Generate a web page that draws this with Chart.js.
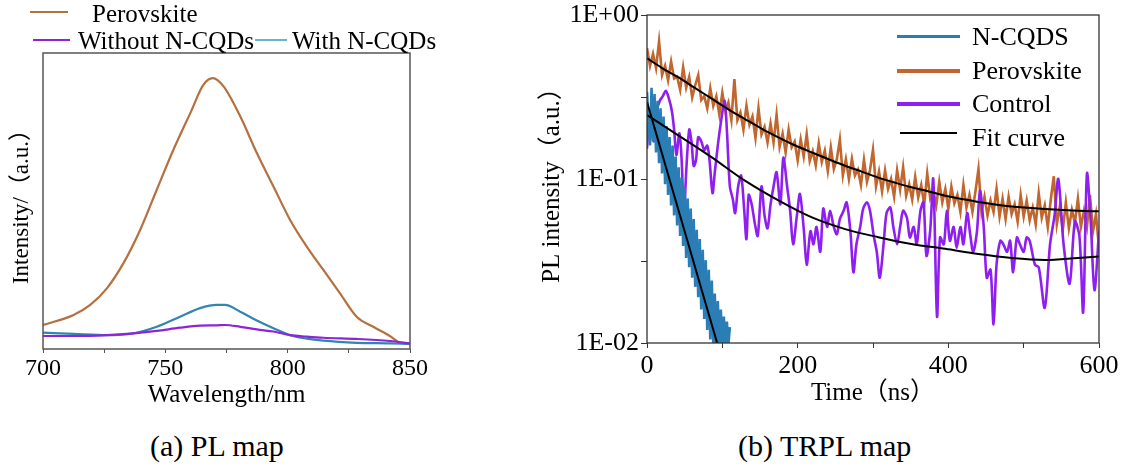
<!DOCTYPE html>
<html>
<head>
<meta charset="utf-8">
<script src="https://cdn.jsdelivr.net/npm/chart.js@4.4.1/dist/chart.umd.min.js"></script>
<style>
    body { margin: 0; background: #fff; }
    #page { position: relative; width: 1133px; height: 470px; overflow: hidden; font-family: 'Liberation Serif', 'Times New Roman', 'Noto Sans CJK SC', serif; }
    .box { position: absolute; top: 0; height: 420px; }
    .txt { position: absolute; white-space: nowrap; color: #000; }
    .swatch { position: absolute; }
</style>
</head>
<body>
<div id="page">
    <div class="box" style="left:0; width:440px;"><canvas id="plChart"></canvas></div>
    <div class="box" style="left:530px; width:603px;"><canvas id="trplChart"></canvas></div>

    <!-- legend (a) -->
    <div class="swatch" style="left:30px; top:11px; width:38px; height:2px; background:#b5703f;"></div>
    <div class="txt" style="left:92px; top:-1px; font-size:25px; line-height:30px;">Perovskite</div>
    <div class="swatch" style="left:33px; top:39px; width:37px; height:2px; background:#8e24d8;"></div>
    <div class="txt" style="left:78px; top:26px; font-size:25px; line-height:30px;">Without N-CQDs</div>
    <div class="swatch" style="left:255px; top:39px; width:32px; height:2px; background:#68b4cc;"></div>
    <div class="txt" style="left:292px; top:26px; font-size:25px; line-height:30px;">With N-CQDs</div>

    <!-- legend (b) -->
    <div class="swatch" style="left:897px; top:35px; width:63px; height:3px; background:#2a7db5;"></div>
    <div class="txt" style="left:972px; top:21px; font-size:26px; line-height:31px;">N-CQDS</div>
    <div class="swatch" style="left:897px; top:69px; width:63px; height:4px; background:#c0662e;"></div>
    <div class="txt" style="left:972px; top:55px; font-size:26px; line-height:31px;">Perovskite</div>
    <div class="swatch" style="left:897px; top:102px; width:63px; height:4px; background:#8f1ff0;"></div>
    <div class="txt" style="left:972px; top:88px; font-size:26px; line-height:31px;">Control</div>
    <div class="swatch" style="left:900px; top:132px; width:57px; height:2px; background:#000;"></div>
    <div class="txt" style="left:972px; top:122px; font-size:26px; line-height:31px;">Fit curve</div>

    <div class="txt" style="left:150px; top:428px; font-size:30px; line-height:36px;">(a) PL map</div>
    <div class="txt" style="left:738px; top:428px; font-size:30px; line-height:36px;">(b) TRPL map</div>
</div>
<script>
// ---------- (a) PL map ----------
const plWavelengthPerov = [700, 712.5, 719.3, 726.1, 732.9, 739.7, 746.5, 753.3, 760.2, 765.6, 769.4, 773.8,
    780.6, 787.4, 794.2, 801, 807.8, 814.6, 821.4, 828.2, 835, 841.8, 845.9, 850];
const plPerovskite = [8.1, 11.5, 14.9, 20.5, 29, 40.2, 53.8, 67.3, 79.7, 89.3, 91.5, 88.7,
    78.6, 66.2, 54.9, 43.6, 34.6, 26.7, 18.8, 10.9, 7.5, 4.4, 2.1, 1.7];
const plWavelength = [700, 712.5, 726.1, 737, 746.5, 756, 764.2, 771, 774.4, 780.6, 787.4, 794.2, 801, 807.8, 814.6, 828.2, 841.8, 850];
const plWithNCQDs = [5.5, 5.1, 4.7, 5.3, 7.5, 10.9, 13.8, 14.9, 14.9, 12.6, 9.6, 7.0, 4.7, 3.5, 2.8, 2.1, 1.9, 1.7];
const plWithoutNCQDs = [4.4, 4.4, 4.7, 5.3, 6.1, 7.2, 7.9, 8.0, 8.1, 7.5, 6.6, 5.9, 4.7, 4.2, 3.8, 3.4, 2.7, 1.9];
const plTicks = [700, 725, 750, 775, 800, 825, 850];

// ---------- (b) TRPL map ----------
const perovStep = 4; // ns between samples, starting at 0
const trplPerovskite = [
    0.63, 0.49, 0.58, 0.475, 0.69, 0.43, 0.49, 0.40, 0.52, 0.41,
    0.42, 0.35, 0.48, 0.36, 0.42, 0.314, 0.373, 0.43, 0.303, 0.32,
    0.27, 0.358, 0.279, 0.319, 0.247, 0.336, 0.26, 0.293, 0.229, 0.406,
    0.228, 0.254, 0.20, 0.28, 0.214, 0.241, 0.178, 0.27, 0.187, 0.208,
    0.167, 0.218, 0.167, 0.246, 0.157, 0.189, 0.145, 0.20, 0.156, 0.169,
    0.13, 0.174, 0.137, 0.188, 0.129, 0.148, 0.121, 0.165, 0.127, 0.149,
    0.112, 0.156, 0.115, 0.132, 0.174, 0.105, 0.132, 0.10, 0.133, 0.105,
    0.114, 0.092, 0.131, 0.096, 0.113, 0.151, 0.09, 0.111, 0.084, 0.113,
    0.087, 0.10, 0.078, 0.113, 0.086, 0.118, 0.079, 0.093, 0.075, 0.103,
    0.077, 0.092, 0.07, 0.108, 0.076, 0.084, 0.069, 0.096, 0.072, 0.087,
    0.066, 0.09, 0.071, 0.08, 0.063, 0.092, 0.067, 0.08, 0.063, 0.084,
    0.115, 0.063, 0.078, 0.06, 0.074, 0.063, 0.087, 0.059, 0.076, 0.057,
    0.078, 0.061, 0.07, 0.055, 0.08, 0.059, 0.074, 0.056, 0.067, 0.053,
    0.082, 0.058, 0.069, 0.051, 0.075, 0.104, 0.053, 0.068, 0.049, 0.072,
    0.05, 0.065, 0.054, 0.076, 0.051, 0.064, 0.051, 0.08, 0.048, 0.061,
    0.038
];

const controlTime = [0, 3, 6, 9, 13, 17, 21, 25, 29, 33, 36, 39, 43, 46, 49, 52, 56, 59, 62, 65, 68, 72, 76, 80, 83, 87, 90, 94, 98,
    103, 106, 110, 114, 117, 121, 125, 129, 132, 135, 139, 143, 147, 152, 156, 160, 164, 168, 172, 177, 181, 186, 190, 194, 199,
    203, 208, 212, 217, 221, 225, 230, 234, 239, 243, 248, 252, 256, 261, 265, 270, 274, 278, 283, 287, 292, 296, 301, 305, 309,
    314, 318, 323, 327, 332, 336, 340, 345, 349, 354, 358, 363, 367, 371, 376, 380, 385, 389, 394, 398, 402, 407, 411, 416, 420,
    425, 429, 433, 438, 442, 447, 451, 456, 460, 464, 469, 473, 478, 482, 486, 491, 495, 500, 504, 508, 515, 520, 528, 535, 541,
    546, 553, 561, 568, 574, 579, 584, 589, 594, 600];
const controlValue = [0.153, 0.24, 0.2, 0.17, 0.26, 0.30, 0.32, 0.345, 0.31, 0.26, 0.2, 0.14, 0.19, 0.13, 0.06, 0.11, 0.2, 0.17, 0.12, 0.13, 0.18, 0.17, 0.15, 0.16, 0.13, 0.082, 0.11, 0.16, 0.22,
    0.3, 0.2, 0.09, 0.075, 0.062, 0.09, 0.105, 0.065, 0.043, 0.08, 0.07, 0.054, 0.045, 0.09, 0.06, 0.05, 0.07, 0.09, 0.11, 0.07, 0.135, 0.09, 0.064, 0.040, 0.06,
    0.081, 0.05, 0.03, 0.048, 0.040, 0.051, 0.036, 0.066, 0.051, 0.064, 0.051, 0.046, 0.057, 0.064, 0.072, 0.048, 0.027, 0.040, 0.051, 0.066, 0.072, 0.064, 0.045, 0.036, 0.025,
    0.040, 0.062, 0.067, 0.051, 0.040, 0.051, 0.064, 0.058, 0.044, 0.051, 0.040, 0.064, 0.072, 0.034, 0.049, 0.10, 0.0145, 0.044, 0.040, 0.064, 0.042, 0.051, 0.038, 0.051, 0.040,
    0.062, 0.046, 0.036, 0.048, 0.085, 0.051, 0.025, 0.028, 0.013, 0.030, 0.042, 0.040, 0.036, 0.042, 0.027, 0.044, 0.040, 0.036, 0.044, 0.042, 0.030, 0.029, 0.0164, 0.040, 0.06,
    0.10, 0.040, 0.023, 0.055, 0.045, 0.0154, 0.108, 0.055, 0.021, 0.048];

const ncqdsStep = 2;
const trplNCQDs = [
    0.34, 0.22, 0.16, 0.36, 0.17, 0.33, 0.145, 0.30, 0.125, 0.27,
    0.108, 0.24, 0.093, 0.21, 0.08, 0.18, 0.069, 0.16, 0.06, 0.137,
    0.052, 0.118, 0.045, 0.102, 0.039, 0.089, 0.033, 0.076, 0.029, 0.066,
    0.025, 0.057, 0.022, 0.049, 0.019, 0.043, 0.016, 0.037, 0.014, 0.032,
    0.012, 0.028, 0.0105, 0.024, 0.0095, 0.02, 0.0092, 0.018, 0.0092, 0.016,
    0.0093, 0.0145, 0.0095, 0.0135, 0.0097, 0.0125
];

const perovFitTime = [0, 20, 42, 64, 86, 108, 130, 152, 175, 197, 219, 241, 263, 285, 307, 329, 351, 374, 396, 418, 440, 462, 484, 506, 528, 550, 572, 600];
const perovFitValue = [0.545, 0.475, 0.416, 0.358, 0.309, 0.266, 0.232, 0.203, 0.179, 0.16, 0.145, 0.132, 0.1205, 0.111, 0.102, 0.095, 0.089, 0.084, 0.079, 0.0755,
    0.0724, 0.070, 0.068, 0.0667, 0.0656, 0.0648, 0.0641, 0.0635];
const controlFitTime = [0, 42, 86, 130, 175, 219, 263, 307, 351, 396, 440, 484, 528, 572, 600];
const controlFitValue = [0.245, 0.184, 0.1355, 0.0977, 0.0738, 0.0583, 0.0495, 0.0442, 0.0402, 0.0375, 0.0349, 0.033, 0.0321, 0.033, 0.0337];
const ncqdsFitTime = [0, 30, 60, 90, 100];
const ncqdsFitValue = [0.295, 0.099, 0.0333, 0.0112, 0.0078];

const trplXTicks = [0, 100, 200, 300, 400, 500, 600];
const trplYTicks = [0.01, 0.0316, 0.1, 0.316, 1];
const trplYLabels = ['1E-02', '', '1E-01', '', '1E+00'];

const SERIF = "'Liberation Serif', 'Times New Roman', 'Noto Sans CJK SC', serif";
Chart.defaults.font.family = SERIF;
Chart.defaults.color = '#000';

function pairs(xs, ys) {
    return ys.map((y, i) => ({ x: xs[i], y: y }));
}

function stepped(step, ys) {
    return ys.map((y, i) => ({ x: i * step, y: y }));
}

// draws the closed frame around the plot area
const framePlugin = {
    id: 'frame',
    afterDraw(chart, args, opts) {
        const { ctx, chartArea } = chart;
        ctx.save();
        ctx.strokeStyle = opts.color || '#444';
        ctx.lineWidth = opts.width || 1.5;
        ctx.strokeRect(chartArea.left, chartArea.top, chartArea.right - chartArea.left, chartArea.bottom - chartArea.top);
        ctx.restore();
    }
};

function lineSet(label, data, color, width, order, tension, monotone) {
    return {
        label: label,
        data: data,
        borderColor: color,
        borderWidth: width,
        pointRadius: 0,
        fill: false,
        order: order,
        tension: tension,
        cubicInterpolationMode: monotone ? 'monotone' : 'default'
    };
}

new Chart(document.getElementById('plChart'), {
    type: 'line',
    data: {
        datasets: [
            lineSet('Without N-CQDs', pairs(plWavelength, plWithoutNCQDs), '#8e24d8', 2.2, 0, 0.4, true),
            lineSet('With N-CQDs', pairs(plWavelength, plWithNCQDs), '#3185b0', 2.2, 1, 0.4, true),
            lineSet('Perovskite', pairs(plWavelengthPerov, plPerovskite), '#b5703f', 2.2, 2, 0.4, true)
        ]
    },
    options: {
        responsive: true,
        maintainAspectRatio: false,
        animation: false,
        layout: { padding: { top: 53, right: 30, left: 0, bottom: 0 } },
        plugins: { legend: { display: false }, tooltip: { enabled: false }, frame: { color: '#555', width: 1.5 } },
        scales: {
            x: {
                type: 'linear',
                min: 700,
                max: 850,
                afterBuildTicks: (scale) => { scale.ticks = plTicks.map(v => ({ value: v })); },
                afterFit: (scale) => { scale.height = 71; },
                ticks: {
                    font: { size: 24, lineHeight: 1 },
                    padding: 4,
                    maxRotation: 0,
                    autoSkip: false,
                    callback: (v) => (v % 50 === 0 ? String(v) : '')
                },
                grid: { drawOnChartArea: false, tickLength: 4, color: '#555' },
                border: { display: false },
                title: { display: true, text: 'Wavelength/nm', font: { size: 25 }, padding: { top: 0, bottom: 10 } }
            },
            y: {
                min: 0,
                max: 100,
                afterFit: (scale) => { scale.width = 43; },
                ticks: { display: false },
                grid: { display: false },
                border: { display: false },
                title: { display: true, text: 'Intensity/（a.u.）', font: { size: 23, lineHeight: 1 }, padding: { top: 10, bottom: 0 } }
            }
        }
    },
    plugins: [framePlugin]
});

new Chart(document.getElementById('trplChart'), {
    type: 'line',
    data: {
        datasets: [
            lineSet('Fit curve', pairs(perovFitTime, perovFitValue), '#000', 2, 0, 0.4, true),
            lineSet('Fit curve', pairs(controlFitTime, controlFitValue), '#000', 2, 0, 0.4, true),
            lineSet('Fit curve', pairs(ncqdsFitTime, ncqdsFitValue), '#000', 2, 0, 0.4, true),
            lineSet('N-CQDS', stepped(ncqdsStep, trplNCQDs), '#2a7db5', 2.6, 1, 0, false),
            lineSet('Control', pairs(controlTime, controlValue), '#8f1ff0', 2.6, 2, 0.3, false),
            lineSet('Perovskite', stepped(perovStep, trplPerovskite), '#c0662e', 2.6, 3, 0, false)
        ]
    },
    options: {
        responsive: true,
        maintainAspectRatio: false,
        animation: false,
        layout: { padding: { top: 14, right: 34, left: 0, bottom: 0 } },
        plugins: { legend: { display: false }, tooltip: { enabled: false }, frame: { color: '#333', width: 1.3 } },
        scales: {
            x: {
                type: 'linear',
                min: 0,
                max: 600,
                afterBuildTicks: (scale) => { scale.ticks = trplXTicks.map(v => ({ value: v })); },
                afterFit: (scale) => { scale.height = 77; },
                ticks: {
                    font: { size: 26, lineHeight: 1 },
                    padding: 5,
                    maxRotation: 0,
                    autoSkip: false,
                    callback: (v) => (v % 200 === 0 ? String(v) : '')
                },
                grid: { drawOnChartArea: false, tickLength: 5, color: '#333' },
                border: { display: false },
                title: { display: true, text: 'Time（ns）', font: { size: 25 }, padding: { top: 0, bottom: 12 } }
            },
            y: {
                type: 'logarithmic',
                min: 0.01,
                max: 1,
                afterBuildTicks: (scale) => { scale.ticks = trplYTicks.map(v => ({ value: v })); },
                afterFit: (scale) => { scale.width = 117; },
                ticks: {
                    font: { size: 26, lineHeight: 1 },
                    padding: 2,
                    autoSkip: false,
                    callback: (v) => trplYLabels[trplYTicks.indexOf(v)] || ''
                },
                grid: { drawOnChartArea: false, tickLength: 6, color: '#333' },
                border: { display: false },
                title: { display: true, text: 'PL intensity（a.u.）', font: { size: 25, lineHeight: 1 }, padding: { top: 10, bottom: 0 } }
            }
        }
    },
    plugins: [framePlugin]
});
</script>
</body>
</html>
